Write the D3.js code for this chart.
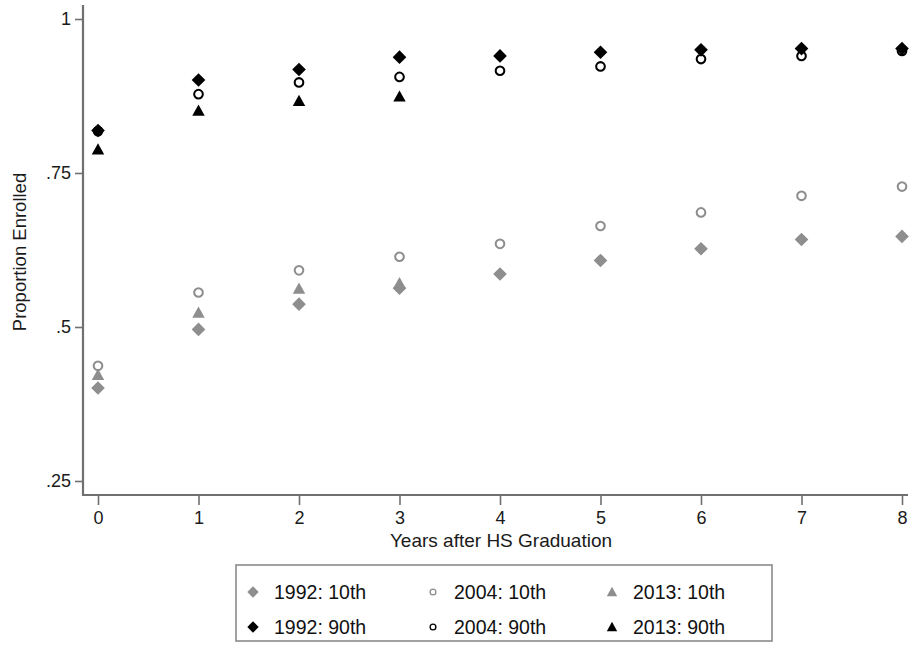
<!DOCTYPE html>
<html>
<head>
<meta charset="utf-8">
<script src="https://cdn.jsdelivr.net/npm/d3@7"></script>
<style>
  html, body { margin: 0; padding: 0; background: #fff; }
  svg { display: block; font-family: "Liberation Sans", Arial, Helvetica, sans-serif; }
</style>
</head>
<body>
<svg id="chart" width="911" height="646"></svg>
<script>
const years = [0, 1, 2, 3, 4, 5, 6, 7, 8];
const yTicks = [0.25, 0.5, 0.75, 1];
const yTickLabels = [".25", ".5", ".75", "1"];

const p10_1992 = [0.401, 0.496, 0.537, 0.563, 0.586, 0.608, 0.627, 0.642, 0.647];
const p10_2004 = [0.437, 0.556, 0.592, 0.614, 0.635, 0.664, 0.686, 0.713, 0.728];
const p10_2013 = [0.422, 0.523, 0.562, 0.571];
const p90_1992 = [0.819, 0.901, 0.918, 0.938, 0.940, 0.946, 0.950, 0.952, 0.952];
const p90_2004 = [0.818, 0.878, 0.897, 0.906, 0.916, 0.923, 0.935, 0.940, 0.948];
const p90_2013 = [0.788, 0.851, 0.867, 0.874];

const legendLabels = ["1992: 10th", "2004: 10th", "2013: 10th", "1992: 90th", "2004: 90th", "2013: 90th"];

const GRAY = "#8e8e8e";
const BLACK = "#000";
const AXIS = "#707070";

const series = [
  { name: legendLabels[1], values: p10_2004, shape: "circle", color: GRAY },
  { name: legendLabels[2], values: p10_2013, shape: "triangle", color: GRAY },
  { name: legendLabels[0], values: p10_1992, shape: "diamond", color: GRAY },
  { name: legendLabels[4], values: p90_2004, shape: "circle", color: BLACK },
  { name: legendLabels[5], values: p90_2013, shape: "triangle", color: BLACK },
  { name: legendLabels[3], values: p90_1992, shape: "diamond", color: BLACK }
];

const svg = d3.select("#chart");

const x = d3.scaleLinear().domain([0, 8]).range([98, 902]);
const y = d3.scaleLinear().domain([0.25, 1]).range([481, 19]);

const yAxisX = 83, xAxisY = 495;

const yAxis = d3.axisLeft(y).tickValues(yTicks)
  .tickFormat((d, i) => yTickLabels[i]).tickSize(8).tickPadding(4);
const gy = svg.append("g").attr("transform", `translate(${yAxisX},0)`).call(yAxis);
gy.select(".domain").remove();
gy.selectAll(".tick line").attr("stroke", AXIS).attr("stroke-width", 1.6);
gy.selectAll(".tick text").attr("fill", "#1a1a1a").attr("font-size", 18).attr("font-family", "Liberation Sans, Arial, sans-serif");

const xAxis = d3.axisBottom(x).tickValues(years).tickFormat(d3.format("d")).tickSize(9).tickPadding(6);
const gx = svg.append("g").attr("transform", `translate(0,${xAxisY + 1})`).call(xAxis);
gx.select(".domain").remove();
gx.selectAll(".tick line").attr("stroke", AXIS).attr("stroke-width", 1.6);
gx.selectAll(".tick text").attr("fill", "#1a1a1a").attr("font-size", 18).attr("font-family", "Liberation Sans, Arial, sans-serif");

svg.append("path")
  .attr("d", `M${yAxisX},5 V${xAxisY} H908`)
  .attr("fill", "none").attr("stroke", AXIS).attr("stroke-width", 2.2);

svg.append("text")
  .attr("x", 501).attr("y", 547)
  .attr("text-anchor", "middle").attr("font-size", 19).attr("fill", "#1a1a1a")
  .text("Years after HS Graduation");

svg.append("text")
  .attr("transform", `translate(26,252) rotate(-90)`)
  .attr("text-anchor", "middle").attr("font-size", 18.5).attr("fill", "#1a1a1a")
  .text("Proportion Enrolled");

function drawMarker(g, shape, color, size) {
  if (shape === "circle") {
    g.append("circle").attr("r", size * 0.36).attr("fill", "#fff")
      .attr("stroke", color).attr("stroke-width", size * 0.17);
  } else if (shape === "diamond") {
    const h = size * 0.57;
    g.append("path").attr("d", `M0,${-h} L${h},0 L0,${h} L${-h},0 Z`).attr("fill", color);
  } else {
    const w = size * 0.52, t = size * 0.52;
    g.append("path").attr("d", `M0,${-t} L${w},${t * 0.8} L${-w},${t * 0.8} Z`).attr("fill", color);
  }
}

const plot = svg.append("g");
series.forEach(s => {
  s.values.forEach((v, i) => {
    const g = plot.append("g").attr("transform", `translate(${x(years[i])},${y(v)})`);
    drawMarker(g, s.shape, s.color, 12);
  });
});

const lg = svg.append("g");
lg.append("rect").attr("x", 236).attr("y", 565).attr("width", 536).attr("height", 76)
  .attr("fill", "#fff").attr("stroke", "#8a8a8a").attr("stroke-width", 1.6);

const legendItems = [
  { label: legendLabels[0], shape: "diamond", color: GRAY },
  { label: legendLabels[1], shape: "circle", color: GRAY },
  { label: legendLabels[2], shape: "triangle", color: GRAY },
  { label: legendLabels[3], shape: "diamond", color: BLACK },
  { label: legendLabels[4], shape: "circle", color: BLACK },
  { label: legendLabels[5], shape: "triangle", color: BLACK }
];
const colX = [253, 433, 612];
const rowY = [592, 627];
legendItems.forEach((it, i) => {
  const cx = colX[i % 3], cy = rowY[Math.floor(i / 3)];
  const g = lg.append("g").attr("transform", `translate(${cx},${cy})`);
  drawMarker(g, it.shape, it.color, it.shape === "circle" ? 8 : 10);
  lg.append("text").attr("x", cx + 21).attr("y", cy + 7)
    .attr("font-size", 19.5).attr("fill", "#111").text(it.label);
});
</script>
</body>
</html>
